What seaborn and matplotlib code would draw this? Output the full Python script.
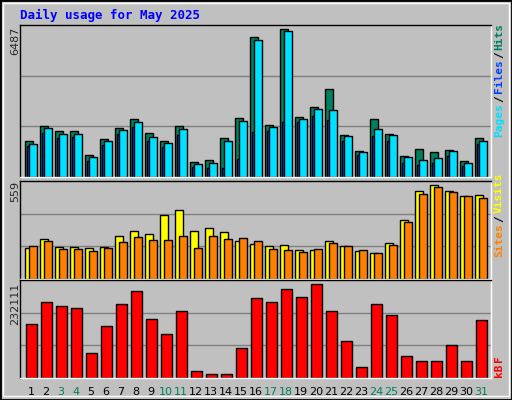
import numpy as np
import matplotlib
matplotlib.use("Agg")
import matplotlib.pyplot as plt
import seaborn as sns
from matplotlib.patches import Rectangle

# ── Data ──────────────────────────────────────────────────────────────────────
days = list(range(1, 32))
weekend_days = [3, 4, 10, 11, 17, 18, 24, 25, 31]

hits = [1600, 2261, 2040, 2040, 984, 1688, 2173, 2540, 1952, 1600, 2261, 675, 763, 1732, 2613, 6136,
        2305, 6487, 2657, 3053, 3846, 1864, 1160, 2540, 1908, 940, 1248, 1116, 1204, 719, 1732]
pages = [1468, 2173, 1908, 1908, 895, 1600, 2085, 2437, 1776, 1512, 2129, 587, 631, 1600, 2481, 6004,
         2217, 6400, 2569, 2965, 2921, 1820, 1116, 2129, 1864, 895, 763, 851, 1160, 631, 1600]
files = [1380, 1952, 1732, 1776, 719, 1424, 1908, 2217, 1600, 1336, 1864, 455, 411, 411, 807, 1996,
         2040, 2437, 2437, 2701, 2525, 1600, 984, 1820, 1600, 631, 543, 631, 940, 499, 1468]
visits = [184, 238, 190, 190, 184, 190, 256, 287, 268, 377, 408, 287, 305, 281, 226, 208,
          196, 202, 172, 172, 226, 196, 165, 153, 214, 347, 523, 559, 523, 492, 498]
sites = [196, 226, 178, 178, 165, 184, 220, 250, 232, 232, 256, 184, 256, 238, 244, 226,
         178, 172, 159, 178, 214, 196, 172, 153, 202, 335, 505, 547, 517, 492, 480]
kbytes = [133000, 186360, 176200, 171100, 61840, 127900, 181300, 214300, 145700, 107600, 163500,
          16100, 11000, 11000, 74540, 196500, 186360, 219400, 199000, 232111, 163500, 89800,
          26260, 181300, 155900, 54200, 41500, 41500, 82200, 41500, 143200]

max_hits, max_visits, max_kb = 6487, 559, 232111

# ── Styling ───────────────────────────────────────────────────────────────────
BG = "#C0C0C0"
C_HITS, C_FILES, C_PAGES = "#00805C", "#0040FF", "#00E0FF"
C_VISITS, C_SITES, C_KB = "#FFFF00", "#FF8000", "#FF0000"
MONO = "DejaVu Sans Mono"

sns.set_style("white")
plt.rcParams["font.family"] = ["DejaVu Sans"]

fig = plt.figure(figsize=(5.12, 4.0), dpi=100, facecolor=BG)
fig.patches.append(Rectangle((0, 0), 1, 1, transform=fig.transFigure, fill=False,
                             edgecolor="black", linewidth=2))
fig.patches.append(Rectangle((0.006, 0.009), 0.988, 0.984, transform=fig.transFigure, fill=False,
                             edgecolor="white", linewidth=1))

x0, w = 20 / 512, 471 / 512
ax1 = fig.add_axes([x0, 1 - 177 / 400, w, 152 / 400])
ax2 = fig.add_axes([x0, 1 - 279 / 400, w, 98 / 400])
ax3 = fig.add_axes([x0, 1 - 378 / 400, w, 98 / 400])

d = np.array(days, dtype=float)


def bars(ax, offset, values, color, width):
    sns.barplot(x=d + offset, y=values, native_scale=True, color=color, width=width,
                edgecolor="black", linewidth=1, saturation=1, ax=ax)


bars(ax1, -0.13, hits, C_HITS, 0.51)
bars(ax1, -0.06, files, C_FILES, 0.45)
bars(ax1, 0.13, pages, C_PAGES, 0.51)

bars(ax2, -0.13, visits, C_VISITS, 0.51)
bars(ax2, 0.13, sites, C_SITES, 0.51)

bars(ax3, 0.02, kbytes, C_KB, 0.71)

tops = [max_hits * 152 / 147.7, max_visits * 96 / 92.4, max_kb * 98 / 94.5]
for ax, top in zip([ax1, ax2, ax3], tops):
    ax.set_facecolor(BG)
    ax.set_xlim(0.267, 31.67)
    ax.set_ylim(0, top)
    ax.set_yticks([top / 3, 2 * top / 3])
    ax.yaxis.grid(True, color="#808080", linewidth=1)
    ax.set_axisbelow(True)
    ax.tick_params(left=False, labelleft=False, bottom=False, labelbottom=False)
    ax.set_xlabel("")
    ax.set_ylabel("")
    for side in ["top", "left"]:
        ax.spines[side].set_color("black")
    for side in ["bottom", "right"]:
        ax.spines[side].set_color("white")
    for s in ax.spines.values():
        s.set_linewidth(1)

ax3.set_xticks(days)
ax3.set_xticklabels([str(k) for k in days], fontsize=8)
ax3.tick_params(labelbottom=True, pad=3)
for lbl, k in zip(ax3.get_xticklabels(), days):
    lbl.set_color(C_HITS if k in weekend_days else "black")

# title and max labels
fig.text(20 / 512, 1 - 15 / 400, "Daily usage for May 2025", color="#0000FF", fontsize=9,
         fontweight="bold", family=MONO, va="center")
fig.text(15 / 512, 1 - 27 / 400, str(max_hits), rotation=90, fontsize=8, va="top", ha="center")
fig.text(15 / 512, 1 - 181 / 400, str(max_visits), rotation=90, fontsize=8, va="top", ha="center")
fig.text(15 / 512, 1 - 283 / 400, str(max_kb), rotation=90, fontsize=8, va="top", ha="center")


def side_label(parts, y_start):
    y = 1 - y_start / 400
    for txt, col in parts:
        t = fig.text(499 / 512, y, txt, rotation=90, color=col, fontsize=8, family=MONO,
                     fontweight="bold", ha="center", va="bottom")
        fig.canvas.draw()
        bb = t.get_window_extent()
        y += bb.height / fig.bbox.height + 0.004


side_label([("Pages", C_PAGES), ("/", "black"), ("Files", C_FILES), ("/", "black"), ("Hits", C_HITS)], 137)
side_label([("Sites", C_SITES), ("/", "black"), ("Visits", C_VISITS)], 257)
side_label([("kB", C_KB), ("F", C_KB)], 377)

fig.savefig("out.png", dpi=100, facecolor=BG)
